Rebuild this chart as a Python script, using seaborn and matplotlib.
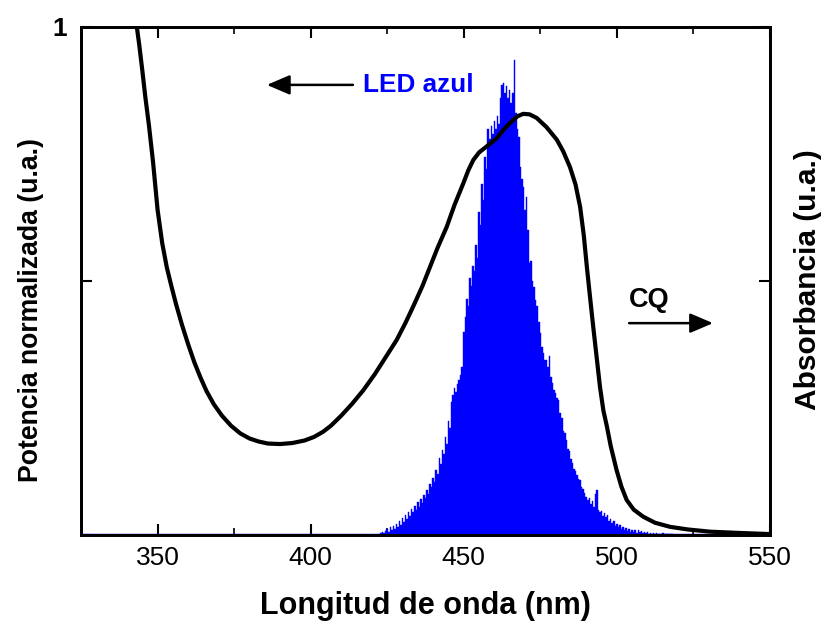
import numpy as np
import pandas as pd
import seaborn as sns
import matplotlib
matplotlib.use("Agg")
import matplotlib.pyplot as plt
from matplotlib.ticker import MultipleLocator

# ---------------- data ----------------
# LED emission spectrum (normalized power), 0.5 nm grid from 423 to 518 nm
led_start, led_step = 423.0, 0.5
led_power = [
    0.004, 0.006, 0.003, 0.008, 0.012, 0.006, 0.015, 0.009, 0.018, 0.012,
    0.022, 0.016, 0.028, 0.020, 0.034, 0.026, 0.040, 0.032, 0.045, 0.038,
    0.052, 0.046, 0.058, 0.050, 0.064, 0.055, 0.070, 0.062, 0.078, 0.072,
    0.088, 0.080, 0.100, 0.094, 0.112, 0.104, 0.128, 0.120, 0.152, 0.140,
    0.168, 0.160, 0.192, 0.180, 0.225, 0.210, 0.262, 0.275, 0.290, 0.282,
    0.298, 0.305, 0.315, 0.330, 0.400, 0.430, 0.465, 0.450, 0.505, 0.490,
    0.530, 0.520, 0.570, 0.545, 0.635, 0.610, 0.690, 0.660, 0.745, 0.720,
    0.800, 0.780, 0.805, 0.790, 0.815, 0.800, 0.825, 0.810, 0.860, 0.885,
    0.890, 0.870, 0.883, 0.860, 0.876, 0.850, 0.870, 0.935, 0.830, 0.800,
    0.784, 0.725, 0.700, 0.685, 0.640, 0.665, 0.600, 0.535, 0.540, 0.500,
    0.488, 0.463, 0.450, 0.420, 0.398, 0.370, 0.358, 0.345, 0.344, 0.330,
    0.353, 0.310, 0.299, 0.285, 0.280, 0.270, 0.266, 0.240, 0.230, 0.205,
    0.200, 0.187, 0.170, 0.165, 0.150, 0.142, 0.130, 0.125, 0.118, 0.110,
    0.108, 0.095, 0.090, 0.082, 0.075, 0.068, 0.072, 0.060, 0.066, 0.055,
    0.080, 0.089, 0.050, 0.045, 0.048, 0.038, 0.043, 0.035, 0.040, 0.028,
    0.032, 0.024, 0.028, 0.018, 0.022, 0.016, 0.020, 0.012, 0.016, 0.010,
    0.014, 0.008, 0.012, 0.006, 0.010, 0.005, 0.009, 0.004, 0.010, 0.005,
    0.008, 0.003, 0.006, 0.003, 0.005, 0.002, 0.004, 0.002, 0.003, 0.001,
    0.004, 0.001, 0.002, 0.001, 0.003, 0.001, 0.002, 0.001, 0.002, 0.001,
    0.001,
]
led_wl = led_start + led_step * np.arange(len(led_power))

# CQ absorbance curve (normalized)
cq_wl = [343.0, 344.0, 345.0, 346.0, 347.2, 348.5, 350.0, 351.5, 353.0, 354.5,
         356.0, 358.0, 360.0, 362.0, 364.0, 366.0, 368.4, 371.0, 374.0, 377.0,
         380.0, 383.0, 386.0, 390.0, 394.0, 398.0, 401.1, 404.0, 406.6, 410.0,
         413.5, 417.2, 421.0, 424.5, 428.1, 431.0, 433.5, 436.5, 439.0, 441.5,
         444.4, 447.0, 449.9, 451.5, 453.1, 455.0, 457.5, 460.8, 463.0, 465.1,
         467.5, 469.4, 471.5, 473.8, 477.0, 480.4, 482.5, 484.7, 486.5, 488.0,
         489.2, 490.2, 491.3, 492.3, 493.4, 494.5, 495.6, 496.7, 498.0, 499.9,
         501.5, 503.2, 505.5, 508.6, 512.5, 517.4, 523.0, 530.4, 540.0, 549.0,
         550.0]
cq_abs = [1.010, 0.965, 0.915, 0.862, 0.805, 0.735, 0.640, 0.575, 0.527, 0.490,
          0.455, 0.413, 0.375, 0.340, 0.310, 0.283, 0.257, 0.235, 0.215, 0.200,
          0.190, 0.184, 0.180, 0.179, 0.181, 0.186, 0.193, 0.203, 0.215, 0.235,
          0.258, 0.285, 0.317, 0.350, 0.384, 0.418, 0.450, 0.490, 0.528, 0.566,
          0.606, 0.650, 0.693, 0.718, 0.738, 0.753, 0.765, 0.781, 0.798, 0.811,
          0.824, 0.829, 0.828, 0.821, 0.803, 0.778, 0.755, 0.724, 0.690, 0.646,
          0.590, 0.528, 0.465, 0.409, 0.350, 0.291, 0.245, 0.215, 0.175, 0.128,
          0.095, 0.069, 0.050, 0.036, 0.024, 0.016, 0.011, 0.0065, 0.004, 0.002,
          0.002]

x_ticks = [350, 400, 450, 500, 550]

# ---------------- plot ----------------
sns.set_theme(style="white")
plt.rcParams["font.family"] = ["Liberation Sans", "DejaVu Sans"]
for k in ("text.color", "axes.labelcolor", "xtick.color", "ytick.color",
          "axes.edgecolor"):
    plt.rcParams[k] = "black"

fig = plt.figure(figsize=(8.27, 6.26), dpi=100)
ax = fig.add_axes([0.098, 0.1454, 0.833, 0.8115])
ax2 = ax.twinx()

blue = "#0000FF"
df_led = pd.DataFrame({"wl": led_wl, "p": led_power})
sns.histplot(data=df_led, x="wl", weights="p", binwidth=led_step,
             binrange=(led_wl[0] - led_step / 2, led_wl[-1] + led_step / 2),
             ax=ax, element="bars", fill=True, color=blue, alpha=1.0,
             edgecolor=blue, linewidth=0.3, stat="count")
ax.axhline(0, color=blue, lw=2.5, zorder=1)

df_cq = pd.DataFrame({"wl": cq_wl, "a": cq_abs})
sns.lineplot(data=df_cq, x="wl", y="a", ax=ax2, color="black", lw=3,
             sort=False)

for a in (ax, ax2):
    a.set_xlim(325, 550)
    a.set_ylim(0, 1)
    a.set_xlabel("")
    a.set_ylabel("")

ax.set_xticks(x_ticks)
ax.set_xticklabels([str(t) for t in x_ticks], fontsize=19)
ax.xaxis.set_minor_locator(MultipleLocator(25))
ax.set_yticks([0, 0.5, 1])
ax.set_yticklabels(["", "", "1"], fontsize=19, fontweight="bold")
ax2.set_yticks([0, 0.5, 1])
ax2.set_yticklabels([])

ax.tick_params(axis="x", which="major", direction="in", length=8, width=1.5,
               top=True, bottom=True, pad=8, colors="black")
ax.tick_params(axis="x", which="minor", direction="in", length=5, width=1.2,
               top=True, bottom=True)
ax.tick_params(axis="y", which="major", direction="in", length=8, width=1.5,
               left=True, pad=10, colors="black")
ax2.tick_params(axis="y", which="major", direction="in", length=8, width=1.5,
                right=True)

for a in (ax, ax2):
    for s in a.spines.values():
        s.set_color("black")
        s.set_linewidth(2)
        s.set_visible(True)

fig.text(0.515, 0.032, "Longitud de onda (nm)", ha="center", va="center",
         fontsize=22, fontweight="bold")
fig.text(0.037, 0.505, "Potencia normalizada (u.a.)", ha="center",
         va="center", rotation=90, fontsize=19.2, fontweight="bold")
fig.text(0.977, 0.554, "Absorbancia (u.a.)", ha="center", va="center",
         rotation=90, fontsize=21.5, fontweight="bold")

arrow = dict(arrowstyle="-|>,head_length=0.7,head_width=0.3", color="black",
             lw=1.8, mutation_scale=20, shrinkA=0, shrinkB=0)
ax.annotate("", xy=(385.7, 0.886), xytext=(413.8, 0.886), arrowprops=arrow)
ax.text(417.0, 0.886, "LED azul", color=blue, fontsize=18.8,
        fontweight="bold", ha="left", va="center")
ax.annotate("", xy=(531.4, 0.417), xytext=(504.0, 0.417), arrowprops=arrow)
ax.text(503.8, 0.463, "CQ", color="black", fontsize=19.5,
        fontweight="bold", ha="left", va="center")

fig.savefig("out.png", dpi=100, facecolor="white")
